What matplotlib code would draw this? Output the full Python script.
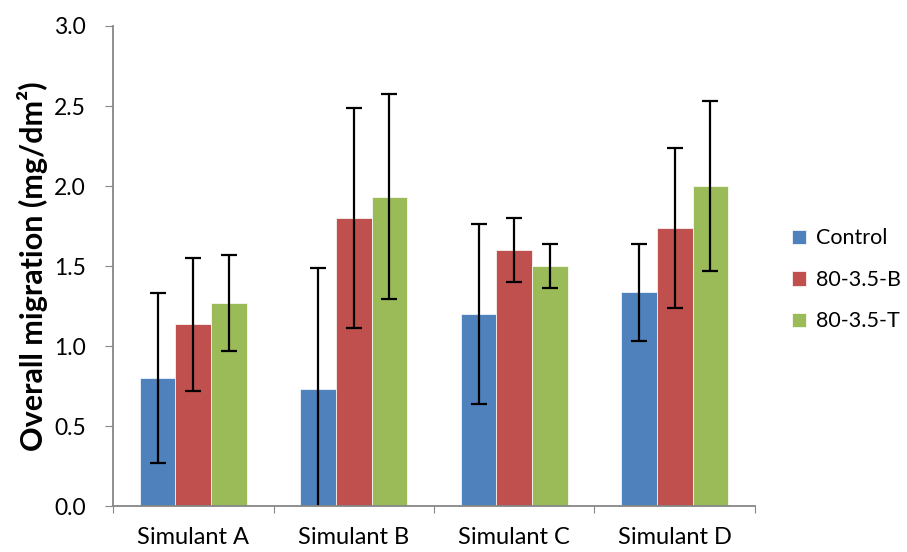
import matplotlib
matplotlib.use("Agg")
import matplotlib.pyplot as plt
import numpy as np

categories = ["Simulant A", "Simulant B", "Simulant C", "Simulant D"]
series = ["Control", "80-3.5-B", "80-3.5-T"]
control = [0.80, 0.733, 1.20, 1.335]
b_vals = [1.135, 1.80, 1.60, 1.735]
t_vals = [1.267, 1.933, 1.50, 2.00]
control_err = [0.53, 0.756, 0.564, 0.303]
b_err = [0.415, 0.69, 0.20, 0.50]
t_err = [0.30, 0.64, 0.14, 0.53]
colors = ["#4F81BD", "#C0504D", "#9BBB59"]
yticks = [0.0, 0.5, 1.0, 1.5, 2.0, 2.5, 3.0]

plt.rcParams['font.family'] = ['Lato', 'DejaVu Sans']

fig = plt.figure(figsize=(9.07, 5.52), dpi=100)
ax = fig.add_axes([0.1246, 0.0833, 0.7078, 0.8696])

x = np.arange(len(categories))
w = 1 / 4.5
vals = [control, b_vals, t_vals]
errs = [control_err, b_err, t_err]
for i, (v, e, c, s) in enumerate(zip(vals, errs, colors, series)):
    ax.bar(x + (i - 1) * w, v, w, color=c, label=s, edgecolor='white', linewidth=0.5,
           yerr=e, error_kw=dict(ecolor='black', elinewidth=1.6, capsize=5.5, capthick=1.6))

ax.set_xlim(-0.5, 3.5)
ax.set_ylim(0, 3.0)
ax.set_yticks(yticks)
ax.set_yticklabels([f"{t:.1f}" for t in yticks])
ax.set_xticks(np.arange(-0.5, 4.0, 1.0), minor=False)
ax.set_xticklabels([])
ax.set_xticks(x, minor=True)
ax.set_xticklabels(categories, minor=True)
ax.tick_params(axis='x', which='minor', length=0, labelsize=17, pad=15)
ax.tick_params(axis='x', which='major', length=5, color='#868686', direction='out')
ax.tick_params(axis='y', length=6, color='#868686', direction='out', labelsize=16.5, pad=13.5)

for side in ['top', 'right']:
    ax.spines[side].set_visible(False)
for side in ['left', 'bottom']:
    ax.spines[side].set_color('#868686')
    ax.spines[side].set_linewidth(1.3)

ax.set_ylabel("Overall migration (mg/dm²)", fontsize=22, fontweight='bold', labelpad=4)

leg = ax.legend(loc='center left', bbox_to_anchor=(1.027, 0.471), frameon=False,
                fontsize=15.5, handlelength=0.65, handleheight=0.65,
                labelspacing=1.0, handletextpad=0.5)

fig.savefig("out.png", dpi=100)
